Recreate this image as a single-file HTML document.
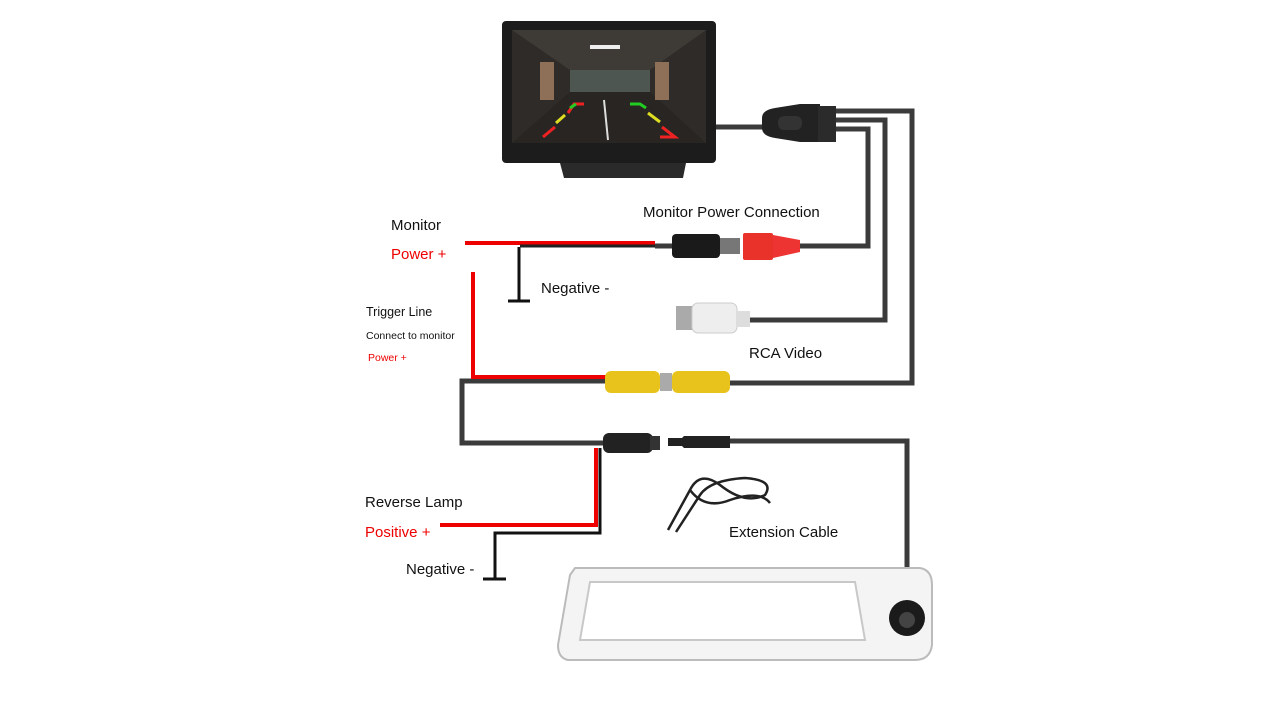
<!DOCTYPE html>
<html><head><style>
body{margin:0;background:#fff;}
svg{display:block;font-family:"Liberation Sans",sans-serif;}
</style></head><body>
<svg width="1280" height="720" viewBox="0 0 1280 720">
<rect width="1280" height="720" fill="#fff"/>
<g fill="none" stroke="#3b3b3b" stroke-width="5">
<path d="M716 127 H765"/>
<path d="M830 111 H912 V383 H728"/>
<path d="M830 120 H885 V320 H748"/>
<path d="M830 129 H868 V246 H798"/>
<path d="M655 246 H672"/>
<path d="M607 381 H462 V443 H605"/>
<path d="M728 441 H907 V572"/>
</g>
<g fill="none" stroke="#e00" stroke-width="4">
<path d="M465 243 H655"/>
<path d="M473 272 V377 H607"/>
<path d="M596 448 V525 H440"/>
</g>
<g fill="none" stroke="#111" stroke-width="3">
<path d="M519 247 V301 M508 301 H530"/>
<path d="M600 448 V533 H495 V578 M483 579 H506"/>
<path d="M520 246 H655" stroke="#222"/>
</g>
<rect x="502" y="21" width="214" height="142" rx="4" fill="#1c1c1c"/>
<rect x="512" y="30" width="194" height="113" fill="#2e2b28"/>
<polygon points="512,30 706,30 650,70 570,70" fill="#3e3a35"/>
<rect x="570" y="70" width="80" height="22" fill="#4e5652"/>
<polygon points="512,143 706,143 650,92 570,92" fill="#282522"/>
<rect x="540" y="62" width="14" height="38" fill="#8e7058"/>
<rect x="655" y="62" width="14" height="38" fill="#8e7058"/>
<rect x="590" y="45" width="30" height="4" fill="#eee"/>
<g stroke-width="3" fill="none">
<path d="M543 137 L555 127 M568 113 L574 104 H584" stroke="#e22" />
<path d="M556 123 L565 115" stroke="#dd2"/>
<path d="M570 108 L576 104" stroke="#2c2"/>
<path d="M630 104 H640 L646 108" stroke="#2c2"/>
<path d="M648 113 L660 122" stroke="#dd2"/>
<path d="M662 127 L675 137 H660" stroke="#e22"/>
<path d="M604 100 L608 140" stroke="#ddd" stroke-width="2"/>
</g>
<path d="M560 163 H686 L683 178 H564 Z" fill="#2a2a2a"/>
<path d="M762 118 Q762 110 775 108 L800 104 H820 V142 H800 L775 138 Q762 136 762 128Z" fill="#222"/>
<rect x="778" y="116" width="24" height="14" rx="6" fill="#333"/>
<rect x="818" y="106" width="18" height="36" fill="#2b2b2b"/>
<rect x="672" y="234" width="48" height="24" rx="4" fill="#1a1a1a"/>
<rect x="720" y="238" width="20" height="16" fill="#777"/>
<rect x="743" y="233" width="30" height="27" rx="2" fill="#e8322a"/>
<path d="M773 235 L800 240 V252 L773 258Z" fill="#e33"/>
<rect x="676" y="306" width="18" height="24" fill="#aaa"/>
<rect x="692" y="303" width="45" height="30" rx="6" fill="#eee" stroke="#ccc"/>
<rect x="737" y="311" width="13" height="16" fill="#ddd"/>
<rect x="605" y="371" width="55" height="22" rx="6" fill="#e8c31c"/>
<rect x="660" y="373" width="12" height="18" fill="#aaa"/>
<rect x="672" y="371" width="58" height="22" rx="6" fill="#e8c31c"/>
<rect x="603" y="433" width="50" height="20" rx="6" fill="#222"/>
<rect x="650" y="436" width="10" height="14" fill="#333"/>
<path d="M668 438 H682 L684 436 H730 V448 H684 L682 446 H668Z" fill="#222"/>
<g fill="none" stroke="#222" stroke-width="2.5">
<path d="M668 530 L690 490 Q700 470 720 485 Q745 505 765 495 Q775 480 745 478 Q710 480 700 495 L676 532"/>
<path d="M690 490 Q705 510 730 500 Q760 490 770 503"/>
</g>
<path d="M575 568 H920 Q932 570 932 585 V645 Q930 660 915 660 H568 Q558 658 558 645 L570 575Z" fill="#f4f4f4" stroke="#bbb" stroke-width="2"/>
<path d="M590 582 H855 L865 640 H580Z" fill="#fff" stroke="#c8c8c8" stroke-width="2"/>
<circle cx="907" cy="618" r="18" fill="#1b1b1b"/>
<circle cx="907" cy="620" r="8" fill="#444"/>
<g font-size="15" fill="#111">
<text x="391" y="230">Monitor</text>
<text x="391" y="259" fill="#e00">Power +</text>
<text x="643" y="217">Monitor Power Connection</text>
<text x="541" y="293">Negative -</text>
<text x="749" y="358">RCA Video</text>
<text x="365" y="507">Reverse Lamp</text>
<text x="365" y="537" fill="#e00">Positive +</text>
<text x="406" y="574">Negative -</text>
<text x="729" y="537">Extension Cable</text>
<text x="366" y="316" font-size="12.5">Trigger Line</text>
<text x="366" y="339" font-size="10.5">Connect to monitor</text>
<text x="368" y="361" font-size="10.5" fill="#e00">Power +</text>
</g>
</svg>
</body></html>
